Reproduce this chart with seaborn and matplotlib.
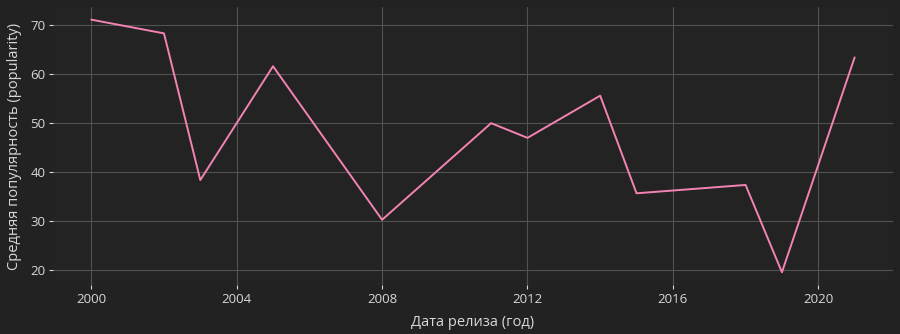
import matplotlib
matplotlib.use("Agg")
import matplotlib.pyplot as plt
import seaborn as sns
import pandas as pd

years = [2000, 2002, 2003, 2005, 2008, 2011, 2012, 2014, 2015, 2018, 2019, 2021]
popularity = [71.0, 68.2, 38.3, 61.5, 30.2, 49.9, 46.9, 55.5, 35.6, 37.3, 19.5, 63.3]
x_ticks = [2000, 2004, 2008, 2012, 2016, 2020]
y_ticks = [20, 30, 40, 50, 60, 70]

df = pd.DataFrame({"year": years, "pop": popularity})

bg = "#222222"
sns.set_theme(style="darkgrid", rc={
    "figure.facecolor": bg,
    "axes.facecolor": "#232323",
    "axes.edgecolor": bg,
    "grid.color": "#525252",
    "grid.linewidth": 0.8,
    "text.color": "#d8d8d8",
    "axes.labelcolor": "#d8d8d8",
    "xtick.color": "#d8d8d8",
    "ytick.color": "#d8d8d8",
    "xtick.bottom": True,
    "ytick.left": True,
})
plt.rcParams["font.family"] = ["Open Sans", "DejaVu Sans"]

fig, ax = plt.subplots(figsize=(9, 3.34), dpi=100)
fig.subplots_adjust(left=0.059, right=0.992, top=0.979, bottom=0.147)
sns.lineplot(data=df, x="year", y="pop", color="#f283b3", linewidth=1.4, ax=ax)
ax.set_xticks(x_ticks)
ax.set_yticks(y_ticks)
ax.tick_params(axis="both", labelsize=9.5, length=3, width=0.8, pad=2.5, colors="#d8d8d8")
ax.set_xlabel("Дата релиза (год)", fontsize=10.5, labelpad=7)
ax.set_ylabel("Средняя популярность (popularity)", fontsize=10.5, labelpad=6)
for s in ax.spines.values():
    s.set_visible(False)
fig.savefig("out.png", dpi=100, facecolor=bg)
